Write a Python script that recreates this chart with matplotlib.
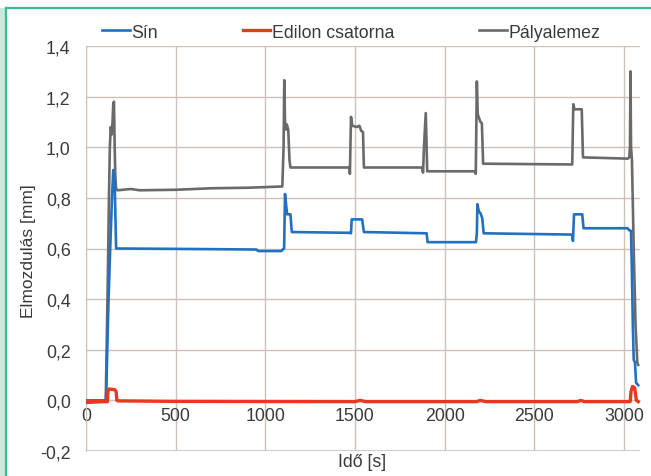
import matplotlib
matplotlib.use("Agg")
import matplotlib.pyplot as plt
from matplotlib.lines import Line2D
from matplotlib.patches import Rectangle
from matplotlib.ticker import FuncFormatter

plt.rcParams['font.family'] = ['Liberation Sans', 'DejaVu Sans']

# ---- data ----
sin_t = [0, 112, 117, 125, 135, 145, 152, 160, 168, 600, 950, 960, 1090, 1100, 1105, 1110, 1118, 1122,
         1140, 1148, 1470, 1478, 1482, 1540, 1550, 1900, 1905, 2175, 2180, 2183, 2192, 2200, 2210, 2218,
         2712, 2716, 2722, 2768, 2775, 3020, 3030, 3040, 3045, 3050, 3055, 3062, 3068, 3080]
sin_y = [0.0, 0.0, 0.15, 0.38, 0.6, 0.8, 0.91, 0.86, 0.6, 0.598, 0.596, 0.59, 0.59, 0.598, 0.6, 0.815,
         0.76, 0.735, 0.735, 0.665, 0.662, 0.66, 0.715, 0.715, 0.665, 0.66, 0.625, 0.625, 0.66, 0.775,
         0.745, 0.74, 0.72, 0.66, 0.655, 0.63, 0.735, 0.735, 0.68, 0.68, 0.672, 0.67, 0.5, 0.3, 0.16,
         0.15, 0.07, 0.06]

edilon_t = [0, 120, 122, 128, 160, 168, 172, 180, 500, 1500, 1530, 1560, 2180, 2200, 2230, 2740, 2760,
            2780, 3035, 3040, 3048, 3060, 3070, 3080]
edilon_y = [-0.005, -0.005, 0.035, 0.045, 0.042, 0.035, 0.0, -0.002, -0.004, -0.005, 0.0, -0.005,
            -0.005, 0.0, -0.005, -0.005, 0.0, -0.005, -0.005, 0.035, 0.055, 0.05, 0.0, -0.005]

paly_t = [0, 105, 110, 115, 122, 128, 133, 138, 143, 148, 152, 156, 160, 163, 167, 175, 250, 300, 500,
          700, 900, 1095, 1102, 1106, 1110, 1115, 1120, 1128, 1135, 1140, 1468, 1472, 1478, 1485, 1510,
          1525, 1535, 1545, 1550, 1875, 1880, 1885, 1895, 1900, 1903, 2168, 2174, 2180, 2185, 2190,
          2200, 2208, 2215, 2712, 2718, 2725, 2765, 2772, 3022, 3030, 3034, 3037, 3040, 3045, 3055,
          3065, 3075, 3080]
paly_y = [-0.01, -0.005, 0.0, 0.2, 0.5, 0.8, 1.0, 1.08, 1.05, 1.1, 1.17, 1.18, 1.0, 0.9, 0.84, 0.83,
          0.835, 0.83, 0.832, 0.838, 0.84, 0.845, 1.0, 1.265, 1.1, 1.07, 1.09, 1.07, 0.95, 0.92, 0.92,
          0.895, 1.12, 1.085, 1.08, 1.085, 1.065, 1.06, 0.92, 0.92, 0.9, 1.0, 1.135, 1.0, 0.905, 0.905,
          0.895, 1.26, 1.13, 1.12, 1.1, 1.095, 0.935, 0.932, 1.17, 1.15, 1.15, 0.96, 0.955, 0.96, 1.0,
          1.30, 1.0, 0.95, 0.6, 0.3, 0.15, 0.14]

series_names = ["Sín", "Edilon csatorna", "Pályalemez"]
x_ticks = [0, 500, 1000, 1500, 2000, 2500, 3000]
y_ticks = [-0.2, 0.0, 0.2, 0.4, 0.6, 0.8, 1.0, 1.2, 1.4]

# ---- figure ----
W, H = 651, 477
fig = plt.figure(figsize=(W / 100, H / 100), dpi=100)
fig.patch.set_facecolor('white')

# green frame
fig.patches.append(Rectangle((0, 0), 5.5 / W, 1 - 9 / H, transform=fig.transFigure,
                             facecolor='#cde8da', edgecolor='none', zorder=0))
fig.lines.append(Line2D([5.5 / W, 5.5 / W], [0, 1 - 8.5 / H], transform=fig.transFigure,
                        color='#3dba8b', lw=1.6))
fig.lines.append(Line2D([5.5 / W, 1], [1 - 8.5 / H, 1 - 8.5 / H], transform=fig.transFigure,
                        color='#3dba8b', lw=1.6))

ax = fig.add_axes([86 / W, 1 - 452 / H, (640 - 86) / W, (452 - 47) / H])
ax.set_facecolor('white')

c_blue = '#2270c0'
c_red = '#e8391e'
c_gray = '#6a6a6a'

l_paly, = ax.plot(paly_t, paly_y, color=c_gray, lw=1.9, zorder=3)
l_sin, = ax.plot(sin_t, sin_y, color=c_blue, lw=1.9, zorder=4)
l_edi, = ax.plot(edilon_t, edilon_y, color=c_red, lw=2.4, zorder=5)

ax.set_xlim(0, 3090)
ax.set_ylim(-0.2, 1.4)
ax.set_xticks(x_ticks)
ax.set_yticks(y_ticks)
ax.yaxis.set_major_formatter(FuncFormatter(lambda v, p: f"{v:.1f}".replace('.', ',').replace('-0,0', '0,0')))
ax.xaxis.set_major_formatter(FuncFormatter(lambda v, p: f"{int(v)}"))

gc = '#cbc2be'
ax.grid(True, color=gc, lw=1.0)
ax.set_axisbelow(True)
for s in ['top', 'right']:
    ax.spines[s].set_visible(False)
ax.spines['left'].set_color(gc)
ax.spines['bottom'].set_position(('data', 0))
ax.spines['bottom'].set_color(gc)
ax.tick_params(axis='both', length=0, colors='#3a3a3a', labelsize=12.8)
ax.tick_params(axis='y', pad=11)
ax.tick_params(axis='x', pad=5)
ax.axhline(-0.2, color=gc, lw=1.2, zorder=1)

fig.text(28 / W, 1 - 251 / H, "Elmozdulás [mm]", rotation=90, ha='center', va='center',
         fontsize=12.5, color='#3a3a3a')
fig.text(362 / W, 1 - 463 / H, "Idő [s]", ha='center', va='center', fontsize=12.8, color='#3a3a3a')

leg = fig.legend([l_sin, l_edi, l_paly], series_names, loc='center left',
                 bbox_to_anchor=(102 / W, 1 - 33 / H), ncol=3, frameon=False, fontsize=12.8,
                 handlelength=1.55, handletextpad=0.12, columnspacing=4.75, borderaxespad=0,
                 borderpad=0)
for t in leg.get_texts():
    t.set_color('#3a3a3a')

fig.savefig("out.png", dpi=100)
